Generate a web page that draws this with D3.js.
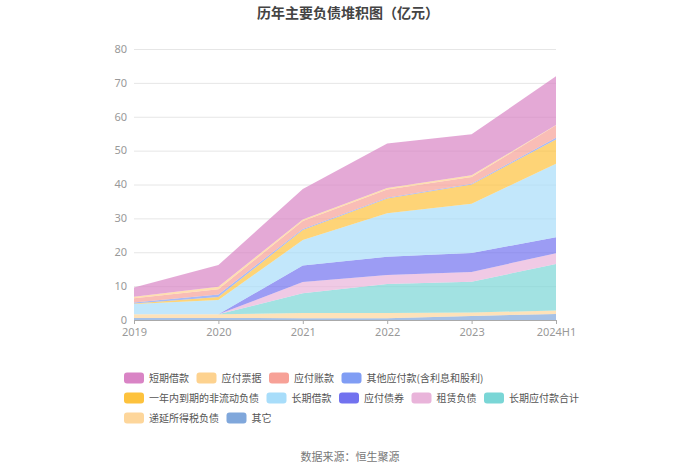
<!DOCTYPE html>
<html><head><meta charset="utf-8">
<script src="https://cdn.jsdelivr.net/npm/d3@7"></script>
<style>
body{margin:0;background:#fff;}
text{font-family:"Noto Sans CJK SC","Noto Sans",sans-serif;}
</style></head>
<body><svg id="c" width="700" height="474"></svg>
<script>
const categories = ["2019","2020","2021","2022","2023","2024H1"];
const seriesNames = ["短期借款","应付票据","应付账款","其他应付款(含利息和股利)","一年内到期的非流动负债","长期借款","应付债券","租赁负债","长期应付款合计","递延所得税负债","其它"];
const seriesColors = ["#d984c5","#fdd28f","#f7a197","#809df4","#fdc23d","#a8ddfa","#7272ef","#e9b4da","#7ad6d6","#fdd69b","#80a7db"];
const shortBorrow   = [2.7, 6.4, 9.0, 13.1, 12.1, 14.4];
const notesPayable  = [0.5, 0.7, 0.5, 0.5, 0.5, 0.05];
const accountsPay   = [1.2, 1.6, 2.3, 2.4, 2.0, 3.7];
const otherPay      = [0.3, 0.7, 0.3, 0.2, 0.2, 0.5];
const currentNonCur = [0.2, 0.9, 3.0, 4.4, 5.7, 7.2];
const longBorrow    = [3.0, 4.2, 7.5, 12.8, 14.5, 21.7];
const bonds         = [0, 0, 4.9, 5.4, 5.6, 4.7];
const lease         = [0, 0, 3.3, 2.7, 2.9, 3.2];
const longPayable   = [0, 0, 5.8, 8.5, 9.1, 13.7];
const deferredTax   = [1.1, 1.1, 1.6, 1.6, 1.0, 1.0];
const others        = [0.6, 0.6, 0.5, 0.5, 1.2, 1.8];
const yTicks = [0,10,20,30,40,50,60,70,80];

const seriesValues = [shortBorrow,notesPayable,accountsPay,otherPay,currentNonCur,longBorrow,bonds,lease,longPayable,deferredTax,others];

const svg = d3.select("#c");
const x = d3.scalePoint().domain(categories).range([134,556]);
const y = d3.scaleLinear().domain([0,80]).range([320,49]);

// grid
svg.append("g").selectAll("line").data(yTicks.filter(d=>d>0)).join("line")
  .attr("x1",134).attr("x2",556).attr("y1",d=>y(d)+0.5).attr("y2",d=>y(d)+0.5)
  .attr("stroke","#e6e6e6");

// stack: bottom is last series
const rows = categories.map((c,i)=>{const o={cat:c}; seriesNames.forEach((n,j)=>o[n]=seriesValues[j][i]); return o;});
const stackOrder = seriesNames.slice().reverse();
const stacked = d3.stack().keys(stackOrder)(rows);
const area = d3.area().x(d=>x(d.data.cat)).y0(d=>y(d[0])).y1(d=>y(d[1]));
svg.append("g").selectAll("path").data(stacked).join("path")
  .attr("d",area)
  .attr("fill",d=>seriesColors[seriesNames.indexOf(d.key)])
  .attr("fill-opacity",0.7);

// y axis labels
const yAxis = d3.axisLeft(y).tickValues(yTicks).tickSize(0).tickPadding(7);
const gy = svg.append("g").attr("transform","translate(134,0)").call(yAxis);
gy.select(".domain").remove();
gy.selectAll("text").attr("fill","#999").attr("dy","0.3em").style("font-size","11px").style("font-family","'Noto Sans','DejaVu Sans',sans-serif");

// x axis
const xAxis = d3.axisBottom(x).tickSize(4).tickPadding(4);
const gx = svg.append("g").attr("transform","translate(0,320)").call(xAxis);
gx.select(".domain").attr("stroke","#aaa");
gx.selectAll("line").attr("stroke","#aaa");
gx.selectAll("text").attr("fill","#999").style("font-size","11px").style("font-family","'Noto Sans','DejaVu Sans',sans-serif");

// title
svg.append("text").attr("x",348).attr("y",18).attr("text-anchor","middle")
  .style("font-size","14px").style("font-weight","bold").attr("fill","#444")
  .text("历年主要负债堆积图（亿元）");

// legend
const lg = svg.append("g");
let lx = 124, ly = 378;
seriesNames.forEach((n,i)=>{
  const g = lg.append("g");
  const t = g.append("text").attr("y",4).attr("fill","#555").style("font-size","10px").text(n);
  const w = 25 + t.node().getComputedTextLength();
  if (lx + w > 600) { lx = 124; ly += 20; }
  g.attr("transform",`translate(${lx},${ly})`);
  g.insert("rect","text").attr("x",0).attr("y",-5.5).attr("width",20).attr("height",11).attr("rx",3)
    .attr("fill",seriesColors[i]);
  t.attr("x",25);
  lx += w + 7.5;
});

// footer
svg.append("text").attr("x",350).attr("y",461).attr("text-anchor","middle")
  .style("font-size","11px").attr("fill","#777").text("数据来源：恒生聚源");
</script></body></html>
